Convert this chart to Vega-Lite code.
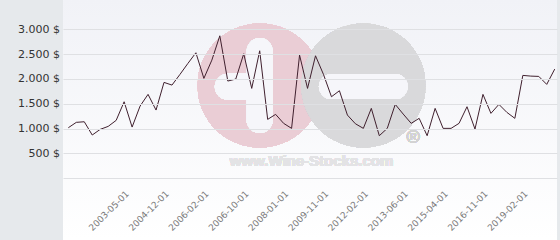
{
  "$schema": "https://vega.github.io/schema/vega-lite/v6.json",
  "width": 494,
  "height": 240,
  "autosize": {"type": "none"},
  "padding": {"left": 63, "top": 0, "right": 3, "bottom": 0},
  "background": "#e6e9ec",
  "config": {
    "view": {"stroke": null, "fill": {"gradient": "linear", "x1": 0, "y1": 0, "x2": 0, "y2": 1, "stops": [{"offset": 0, "color": "#f1f2f7"}, {"offset": 1, "color": "#ffffff"}]}},
    "font": "DejaVu Sans"
  },
  "data": {"values": [
    {"date": "2001-03-01", "price": 1017},
    {"date": "2001-07-01", "price": 1125},
    {"date": "2001-11-01", "price": 1137},
    {"date": "2002-03-01", "price": 870},
    {"date": "2002-07-01", "price": 984},
    {"date": "2002-10-01", "price": 1044},
    {"date": "2003-01-01", "price": 1165},
    {"date": "2003-05-01", "price": 1540},
    {"date": "2003-09-01", "price": 1030},
    {"date": "2004-01-01", "price": 1453},
    {"date": "2004-04-01", "price": 1689},
    {"date": "2004-08-01", "price": 1373},
    {"date": "2004-12-01", "price": 1930},
    {"date": "2005-03-01", "price": 1876},
    {"date": "2005-06-01", "price": 2091},
    {"date": "2005-09-01", "price": 2313},
    {"date": "2005-11-01", "price": 2527},
    {"date": "2006-02-01", "price": 2011},
    {"date": "2006-03-01", "price": 2379},
    {"date": "2006-05-01", "price": 2869},
    {"date": "2006-06-01", "price": 1957},
    {"date": "2006-08-01", "price": 1997},
    {"date": "2006-10-01", "price": 2507},
    {"date": "2007-01-01", "price": 1809},
    {"date": "2007-04-01", "price": 2567},
    {"date": "2007-07-01", "price": 1185},
    {"date": "2007-10-01", "price": 1286},
    {"date": "2008-01-01", "price": 1105},
    {"date": "2008-06-01", "price": 1004},
    {"date": "2008-10-01", "price": 2480},
    {"date": "2009-03-01", "price": 1809},
    {"date": "2009-07-01", "price": 2466},
    {"date": "2009-11-01", "price": 2091},
    {"date": "2010-05-01", "price": 1641},
    {"date": "2010-10-01", "price": 1762},
    {"date": "2011-04-01", "price": 1272},
    {"date": "2011-09-01", "price": 1097},
    {"date": "2012-02-01", "price": 1004},
    {"date": "2012-05-01", "price": 1407},
    {"date": "2012-09-01", "price": 856},
    {"date": "2012-12-01", "price": 1004},
    {"date": "2013-03-01", "price": 1487},
    {"date": "2013-06-01", "price": 1292},
    {"date": "2013-11-01", "price": 1105},
    {"date": "2014-03-01", "price": 1206},
    {"date": "2014-08-01", "price": 856},
    {"date": "2014-12-01", "price": 1407},
    {"date": "2015-04-01", "price": 1004},
    {"date": "2015-08-01", "price": 1004},
    {"date": "2015-12-01", "price": 1105},
    {"date": "2016-03-01", "price": 1440},
    {"date": "2016-07-01", "price": 990},
    {"date": "2016-11-01", "price": 1689},
    {"date": "2017-05-01", "price": 1306},
    {"date": "2017-10-01", "price": 1487},
    {"date": "2018-04-01", "price": 1326},
    {"date": "2018-09-01", "price": 1206},
    {"date": "2019-02-01", "price": 2071},
    {"date": "2019-08-01", "price": 2057},
    {"date": "2020-02-01", "price": 2051},
    {"date": "2020-08-01", "price": 1890},
    {"date": "2021-02-01", "price": 2198}
  ]},
  "encoding": {
    "x": {
      "field": "date", "type": "ordinal",
      "scale": {"type": "point", "padding": 0.477, "align": 0.7},
      "axis": {
        "title": null, "grid": false, "domain": false, "ticks": false,
        "offset": -62, "labelAngle": -45, "labelAlign": "right", "labelBaseline": "top",
        "labelPadding": 11, "labelFontSize": 9, "labelColor": "#7a7a7a", "labelFont": "DejaVu Sans",
        "labelOverlap": false,
        "labelExpr": "(datum.value == '2003-05-01' || datum.value == '2004-12-01' || datum.value == '2006-02-01' || datum.value == '2006-10-01' || datum.value == '2008-01-01' || datum.value == '2009-11-01' || datum.value == '2012-02-01' || datum.value == '2013-06-01' || datum.value == '2015-04-01' || datum.value == '2016-11-01' || datum.value == '2019-02-01') ? datum.value : ''"
      }
    },
    "y": {
      "field": "price", "type": "quantitative",
      "scale": {"domain": [-1245, 3590], "nice": false, "zero": false},
      "axis": {
        "title": null, "domain": false, "ticks": false, "zindex": 1,
        "values": [0, 500, 1000, 1500, 2000, 2500, 3000],
        "grid": true, "gridColor": "#dfe0e3", "gridWidth": 1,
        "labelPadding": 3.5, "labelFontSize": 11, "labelColor": "#333333", "labelFont": "DejaVu Sans",
        "labelExpr": "datum.value == 0 ? '' : replace(format(datum.value, ',d'), ',', '.') + ' $'"
      }
    }
  },
  "layer": [
    {
      "mark": {"type": "point", "filled": true, "size": 15376, "opacity": 1, "color": "#eacdd5", "strokeWidth": 0},
      "encoding": {"x": {"datum": "2007-04-01", "type": "ordinal"}, "y": {"datum": 1866, "type": "quantitative"}}
    },
    {
      "mark": {"type": "point", "filled": true, "size": 15376, "opacity": 1, "color": "#d9d9db", "strokeWidth": 0},
      "encoding": {"x": {"datum": "2012-02-01", "type": "ordinal"}, "y": {"datum": 1866, "type": "quantitative"}}
    },
    {
      "mark": {"type": "rule", "strokeWidth": 26, "strokeCap": "round", "color": "#f6f6fa"},
      "encoding": {"x": {"datum": "2006-06-01", "type": "ordinal"}, "x2": {"datum": "2007-04-01"}, "y": {"datum": 1840, "type": "quantitative"}}
    },
    {
      "mark": {"type": "rule", "strokeWidth": 26, "strokeCap": "round", "color": "#f6f6fa"},
      "encoding": {"x": {"datum": "2007-04-01", "type": "ordinal"}, "y": {"datum": 2561, "type": "quantitative"}, "y2": {"datum": 1172}}
    },
    {
      "mark": {"type": "rule", "strokeWidth": 25, "strokeCap": "round", "color": "#f6f6fa"},
      "encoding": {"x": {"datum": "2010-05-01", "type": "ordinal"}, "x2": {"datum": "2013-03-01"}, "y": {"datum": 1846, "type": "quantitative"}}
    },
    {
      "mark": {"type": "text", "text": "www.Wine-Stocks.com", "font": "Liberation Sans", "fontWeight": "bold", "fontSize": 15, "color": "#e3e3e5", "align": "center", "baseline": "middle", "dx": 4},
      "encoding": {"x": {"datum": "2009-03-01", "type": "ordinal"}, "y": {"datum": 346, "type": "quantitative"}}
    },
    {
      "mark": {"type": "text", "text": "®", "font": "Liberation Sans", "fontSize": 18, "color": "#d3d3d3", "align": "center", "baseline": "middle", "dx": 2},
      "encoding": {"x": {"datum": "2013-11-01", "type": "ordinal"}, "y": {"datum": 809, "type": "quantitative"}}
    },
    {
      "mark": {"type": "line", "color": "#40202e", "strokeWidth": 1}
    }
  ]
}
